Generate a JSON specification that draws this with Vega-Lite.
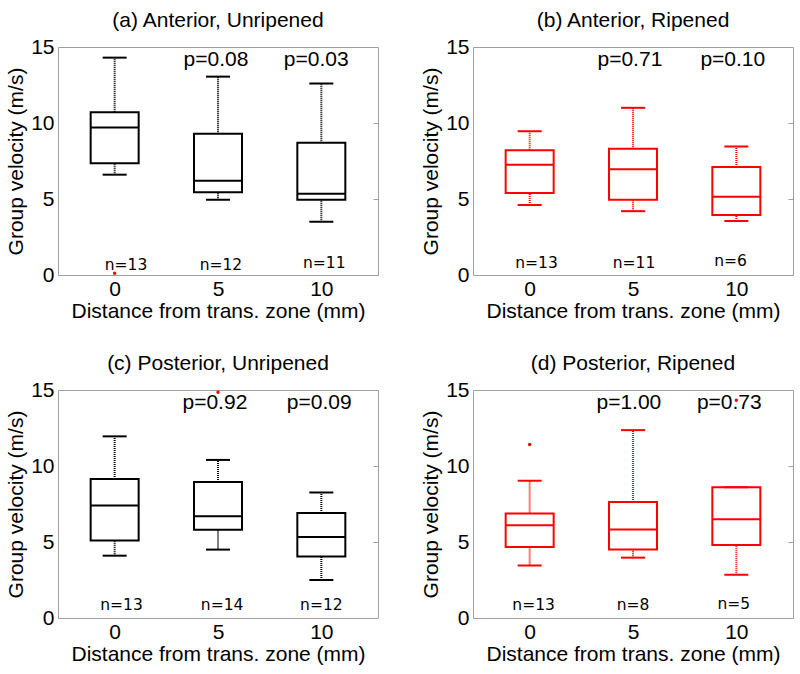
{
  "$schema": "https://vega.github.io/schema/vega-lite/v6.json",
  "background": "white",
  "padding": {"left": 5, "top": 9, "right": 8, "bottom": 9},
  "columns": 2,
  "spacing": {"row": 115, "column": 95},
  "bounds": "flush",
  "config": {
    "view": {"stroke": "#a0a0a0", "strokeWidth": 1},
    "font": "Liberation Sans",
    "axis": {"grid": false, "domain": false, "labelFontSize": 21, "titleFontSize": 21, "titleFontWeight": "normal", "labelColor": "black", "titleColor": "black", "labelFont": "Liberation Sans", "titleFont": "Liberation Sans"},
    "title": {"fontSize": 21, "fontWeight": "normal", "font": "Liberation Sans", "color": "black", "frame": "group", "baseline": "alphabetic", "offset": 5, "anchor": "middle"}
  },
  "datasets": {
    "a": [
      {"d": 0, "lo": 6.6, "q1": 7.35, "med": 9.7, "q3": 10.7, "hi": 14.3, "n": "n=13", "nx": 0.55, "ny": 0.3, "p": "", "px": 0, "py": 13.75},
      {"d": 5, "lo": 4.95, "q1": 5.45, "med": 6.2, "q3": 9.3, "hi": 13.05, "n": "n=12", "nx": 5.14, "ny": 0.3, "p": "p=0.08", "px": 4.9, "py": 13.75},
      {"d": 10, "lo": 3.5, "q1": 4.95, "med": 5.35, "q3": 8.7, "hi": 12.6, "n": "n=11", "nx": 10.14, "ny": 0.45, "p": "p=0.03", "px": 9.75, "py": 13.75}
    ],
    "a_out": [{"d": 0, "v": 0.12}],
    "b": [
      {"d": 0, "lo": 4.6, "q1": 5.4, "med": 7.25, "q3": 8.2, "hi": 9.45, "n": "n=13", "nx": 0.33, "ny": 0.45, "p": "", "px": 0, "py": 13.75},
      {"d": 5, "lo": 4.2, "q1": 4.95, "med": 6.95, "q3": 8.3, "hi": 11.0, "n": "n=11", "nx": 5.05, "ny": 0.45, "p": "p=0.71", "px": 4.85, "py": 13.75},
      {"d": 10, "lo": 3.55, "q1": 3.95, "med": 5.15, "q3": 7.1, "hi": 8.45, "n": "n=6", "nx": 9.72, "ny": 0.6, "p": "p=0.10", "px": 9.83, "py": 13.75}
    ],
    "c": [
      {"d": 0, "lo": 4.1, "q1": 5.1, "med": 7.4, "q3": 9.15, "hi": 11.95, "n": "n=13", "nx": 0.33, "ny": 0.55, "p": "", "px": 0, "py": 13.75},
      {"d": 5, "lo": 4.5, "q1": 5.8, "med": 6.7, "q3": 8.95, "hi": 10.4, "n": "n=14", "nx": 5.2, "ny": 0.55, "p": "p=0.92", "px": 4.85, "py": 13.75},
      {"d": 10, "lo": 2.5, "q1": 4.05, "med": 5.33, "q3": 6.9, "hi": 8.25, "n": "n=12", "nx": 10.0, "ny": 0.55, "p": "p=0.09", "px": 9.9, "py": 13.75}
    ],
    "c_out": [{"d": 5, "v": 14.85}],
    "dd": [
      {"d": 0, "lo": 3.45, "q1": 4.67, "med": 6.1, "q3": 6.88, "hi": 9.03, "n": "n=13", "nx": 0.19, "ny": 0.55, "p": "", "px": 0, "py": 13.75},
      {"d": 5, "lo": 3.97, "q1": 4.5, "med": 5.83, "q3": 7.63, "hi": 12.36, "n": "n=8", "nx": 5.0, "ny": 0.5, "p": "p=1.00", "px": 4.8, "py": 13.75},
      {"d": 10, "lo": 2.85, "q1": 4.8, "med": 6.5, "q3": 8.6, "hi": 8.6, "n": "n=5", "nx": 9.88, "ny": 0.6, "p": "p=0.73", "px": 9.66, "py": 13.75}
    ],
    "d_out": [{"d": 0, "v": 11.42}, {"d": 10, "v": 14.33}]
  },
  "concat": [
    {
      "title": "(a) Anterior, Unripened",
      "width": 320, "height": 228,
      "data": {"name": "a"},
      "resolve": {"axis": {"y": "independent"}},
      "encoding": {"x": {"field": "d", "type": "quantitative", "scale": {"domain": [-2.5, 12.5], "nice": false}, "axis": {"values": [0, 5, 10], "title": "Distance from trans. zone (mm)", "ticks": false, "labelPadding": 3.5, "titlePadding": 1}}},
      "layer": [
        {"mark": {"type": "rule", "color": "black", "strokeWidth": 2, "strokeDash": [1, 1]}, "encoding": {"y": {"field": "lo", "type": "quantitative", "scale": {"domain": [0, 15], "nice": false}, "axis": {"values": [0, 5, 10, 15], "title": "Group velocity (m/s)", "ticks": false, "labelPadding": 4, "titlePadding": 4}}, "y2": {"field": "q1"}}},
        {"mark": {"type": "rule", "color": "black", "strokeWidth": 2, "strokeDash": [1, 1]}, "encoding": {"y": {"field": "q3", "type": "quantitative", "axis": null}, "y2": {"field": "hi"}}},
        {"mark": {"type": "bar", "size": 48, "fillOpacity": 0, "stroke": "black", "strokeWidth": 2}, "encoding": {"y": {"field": "q1", "type": "quantitative", "axis": null}, "y2": {"field": "q3"}}},
        {"mark": {"type": "tick", "orient": "horizontal", "size": 48, "thickness": 2, "color": "black", "opacity": 1}, "encoding": {"y": {"field": "med", "type": "quantitative", "axis": {"orient": "right", "values": [5, 10], "labels": false, "title": null, "tickSize": -5, "tickColor": "#a0a0a0"}}}},
        {"mark": {"type": "tick", "orient": "horizontal", "size": 24, "thickness": 2, "color": "black", "opacity": 1}, "encoding": {"y": {"field": "lo", "type": "quantitative", "axis": null}}},
        {"mark": {"type": "tick", "orient": "horizontal", "size": 24, "thickness": 2, "color": "black", "opacity": 1}, "encoding": {"y": {"field": "hi", "type": "quantitative", "axis": null}}},
        {"mark": {"type": "text", "font": "Liberation Sans", "fontSize": 21, "baseline": "alphabetic", "color": "black"}, "encoding": {"x": {"field": "px", "type": "quantitative", "title": "Distance from trans. zone (mm)"}, "y": {"field": "py", "type": "quantitative", "axis": null}, "text": {"field": "p"}}},
        {"mark": {"type": "text", "font": "DejaVu Sans", "fontSize": 15.5, "baseline": "alphabetic", "color": "black"}, "encoding": {"x": {"field": "nx", "type": "quantitative", "title": "Distance from trans. zone (mm)"}, "y": {"field": "ny", "type": "quantitative", "axis": null}, "text": {"field": "n"}}},
        {"data": {"name": "a_out"}, "mark": {"type": "circle", "color": "red", "size": 12, "opacity": 1}, "encoding": {"x": {"field": "d", "type": "quantitative", "title": "Distance from trans. zone (mm)"}, "y": {"field": "v", "type": "quantitative", "axis": null}}}
      ]
    },
    {
      "title": "(b) Anterior, Ripened",
      "width": 320, "height": 228,
      "data": {"name": "b"},
      "resolve": {"axis": {"y": "independent"}},
      "encoding": {"x": {"field": "d", "type": "quantitative", "scale": {"domain": [-2.5, 12.5], "nice": false}, "axis": {"values": [0, 5, 10], "title": "Distance from trans. zone (mm)", "ticks": false, "labelPadding": 3.5, "titlePadding": 1}}},
      "layer": [
        {"mark": {"type": "rule", "color": "red", "strokeWidth": 2, "strokeDash": [1, 1]}, "encoding": {"y": {"field": "lo", "type": "quantitative", "scale": {"domain": [0, 15], "nice": false}, "axis": {"values": [0, 5, 10, 15], "title": "Group velocity (m/s)", "ticks": false, "labelPadding": 4, "titlePadding": 4}}, "y2": {"field": "q1"}}},
        {"mark": {"type": "rule", "color": "red", "strokeWidth": 2, "strokeDash": [1, 1]}, "encoding": {"y": {"field": "q3", "type": "quantitative", "axis": null}, "y2": {"field": "hi"}}},
        {"mark": {"type": "bar", "size": 48, "fillOpacity": 0, "stroke": "red", "strokeWidth": 2}, "encoding": {"y": {"field": "q1", "type": "quantitative", "axis": null}, "y2": {"field": "q3"}}},
        {"mark": {"type": "tick", "orient": "horizontal", "size": 48, "thickness": 2, "color": "red", "opacity": 1}, "encoding": {"y": {"field": "med", "type": "quantitative", "axis": {"orient": "right", "values": [5, 10], "labels": false, "title": null, "tickSize": -5, "tickColor": "#a0a0a0"}}}},
        {"mark": {"type": "tick", "orient": "horizontal", "size": 24, "thickness": 2, "color": "red", "opacity": 1}, "encoding": {"y": {"field": "lo", "type": "quantitative", "axis": null}}},
        {"mark": {"type": "tick", "orient": "horizontal", "size": 24, "thickness": 2, "color": "red", "opacity": 1}, "encoding": {"y": {"field": "hi", "type": "quantitative", "axis": null}}},
        {"mark": {"type": "text", "font": "Liberation Sans", "fontSize": 21, "baseline": "alphabetic", "color": "black"}, "encoding": {"x": {"field": "px", "type": "quantitative", "title": "Distance from trans. zone (mm)"}, "y": {"field": "py", "type": "quantitative", "axis": null}, "text": {"field": "p"}}},
        {"mark": {"type": "text", "font": "DejaVu Sans", "fontSize": 15.5, "baseline": "alphabetic", "color": "black"}, "encoding": {"x": {"field": "nx", "type": "quantitative", "title": "Distance from trans. zone (mm)"}, "y": {"field": "ny", "type": "quantitative", "axis": null}, "text": {"field": "n"}}}
      ]
    },
    {
      "title": "(c) Posterior, Unripened",
      "width": 320, "height": 228,
      "data": {"name": "c"},
      "resolve": {"axis": {"y": "independent"}},
      "encoding": {"x": {"field": "d", "type": "quantitative", "scale": {"domain": [-2.5, 12.5], "nice": false}, "axis": {"values": [0, 5, 10], "title": "Distance from trans. zone (mm)", "ticks": false, "labelPadding": 3.5, "titlePadding": 1}}},
      "layer": [
        {"mark": {"type": "rule", "color": "black", "strokeWidth": 2, "strokeDash": [1, 1]}, "encoding": {"y": {"field": "lo", "type": "quantitative", "scale": {"domain": [0, 15], "nice": false}, "axis": {"values": [0, 5, 10, 15], "title": "Group velocity (m/s)", "ticks": false, "labelPadding": 4, "titlePadding": 4}}, "y2": {"field": "q1"}}},
        {"mark": {"type": "rule", "color": "black", "strokeWidth": 2, "strokeDash": [1, 1]}, "encoding": {"y": {"field": "q3", "type": "quantitative", "axis": null}, "y2": {"field": "hi"}}},
        {"mark": {"type": "bar", "size": 48, "fillOpacity": 0, "stroke": "black", "strokeWidth": 2}, "encoding": {"y": {"field": "q1", "type": "quantitative", "axis": null}, "y2": {"field": "q3"}}},
        {"mark": {"type": "tick", "orient": "horizontal", "size": 48, "thickness": 2, "color": "black", "opacity": 1}, "encoding": {"y": {"field": "med", "type": "quantitative", "axis": {"orient": "right", "values": [5, 10], "labels": false, "title": null, "tickSize": -5, "tickColor": "#a0a0a0"}}}},
        {"mark": {"type": "tick", "orient": "horizontal", "size": 24, "thickness": 2, "color": "black", "opacity": 1}, "encoding": {"y": {"field": "lo", "type": "quantitative", "axis": null}}},
        {"mark": {"type": "tick", "orient": "horizontal", "size": 24, "thickness": 2, "color": "black", "opacity": 1}, "encoding": {"y": {"field": "hi", "type": "quantitative", "axis": null}}},
        {"mark": {"type": "text", "font": "Liberation Sans", "fontSize": 21, "baseline": "alphabetic", "color": "black"}, "encoding": {"x": {"field": "px", "type": "quantitative", "title": "Distance from trans. zone (mm)"}, "y": {"field": "py", "type": "quantitative", "axis": null}, "text": {"field": "p"}}},
        {"mark": {"type": "text", "font": "DejaVu Sans", "fontSize": 15.5, "baseline": "alphabetic", "color": "black"}, "encoding": {"x": {"field": "nx", "type": "quantitative", "title": "Distance from trans. zone (mm)"}, "y": {"field": "ny", "type": "quantitative", "axis": null}, "text": {"field": "n"}}},
        {"data": {"name": "c_out"}, "mark": {"type": "circle", "color": "red", "size": 12, "opacity": 1}, "encoding": {"x": {"field": "d", "type": "quantitative", "title": "Distance from trans. zone (mm)"}, "y": {"field": "v", "type": "quantitative", "axis": null}}}
      ]
    },
    {
      "title": "(d) Posterior, Ripened",
      "width": 320, "height": 228,
      "data": {"name": "dd"},
      "resolve": {"axis": {"y": "independent"}},
      "encoding": {"x": {"field": "d", "type": "quantitative", "scale": {"domain": [-2.5, 12.5], "nice": false}, "axis": {"values": [0, 5, 10], "title": "Distance from trans. zone (mm)", "ticks": false, "labelPadding": 3.5, "titlePadding": 1}}},
      "layer": [
        {"mark": {"type": "rule", "color": "red", "strokeWidth": 2, "strokeDash": [1, 1]}, "encoding": {"y": {"field": "lo", "type": "quantitative", "scale": {"domain": [0, 15], "nice": false}, "axis": {"values": [0, 5, 10, 15], "title": "Group velocity (m/s)", "ticks": false, "labelPadding": 4, "titlePadding": 4}}, "y2": {"field": "q1"}}},
        {"mark": {"type": "rule", "color": "red", "strokeWidth": 2, "strokeDash": [1, 1]}, "encoding": {"y": {"field": "q3", "type": "quantitative", "axis": null}, "y2": {"field": "hi"}}},
        {"mark": {"type": "bar", "size": 48, "fillOpacity": 0, "stroke": "red", "strokeWidth": 2}, "encoding": {"y": {"field": "q1", "type": "quantitative", "axis": null}, "y2": {"field": "q3"}}},
        {"mark": {"type": "tick", "orient": "horizontal", "size": 48, "thickness": 2, "color": "red", "opacity": 1}, "encoding": {"y": {"field": "med", "type": "quantitative", "axis": {"orient": "right", "values": [5, 10], "labels": false, "title": null, "tickSize": -5, "tickColor": "#a0a0a0"}}}},
        {"mark": {"type": "tick", "orient": "horizontal", "size": 24, "thickness": 2, "color": "red", "opacity": 1}, "encoding": {"y": {"field": "lo", "type": "quantitative", "axis": null}}},
        {"mark": {"type": "tick", "orient": "horizontal", "size": 24, "thickness": 2, "color": "red", "opacity": 1}, "encoding": {"y": {"field": "hi", "type": "quantitative", "axis": null}}},
        {"mark": {"type": "text", "font": "Liberation Sans", "fontSize": 21, "baseline": "alphabetic", "color": "black"}, "encoding": {"x": {"field": "px", "type": "quantitative", "title": "Distance from trans. zone (mm)"}, "y": {"field": "py", "type": "quantitative", "axis": null}, "text": {"field": "p"}}},
        {"mark": {"type": "text", "font": "DejaVu Sans", "fontSize": 15.5, "baseline": "alphabetic", "color": "black"}, "encoding": {"x": {"field": "nx", "type": "quantitative", "title": "Distance from trans. zone (mm)"}, "y": {"field": "ny", "type": "quantitative", "axis": null}, "text": {"field": "n"}}},
        {"data": {"name": "d_out"}, "mark": {"type": "circle", "color": "red", "size": 12, "opacity": 1}, "encoding": {"x": {"field": "d", "type": "quantitative", "title": "Distance from trans. zone (mm)"}, "y": {"field": "v", "type": "quantitative", "axis": null}}}
      ]
    }
  ]
}
